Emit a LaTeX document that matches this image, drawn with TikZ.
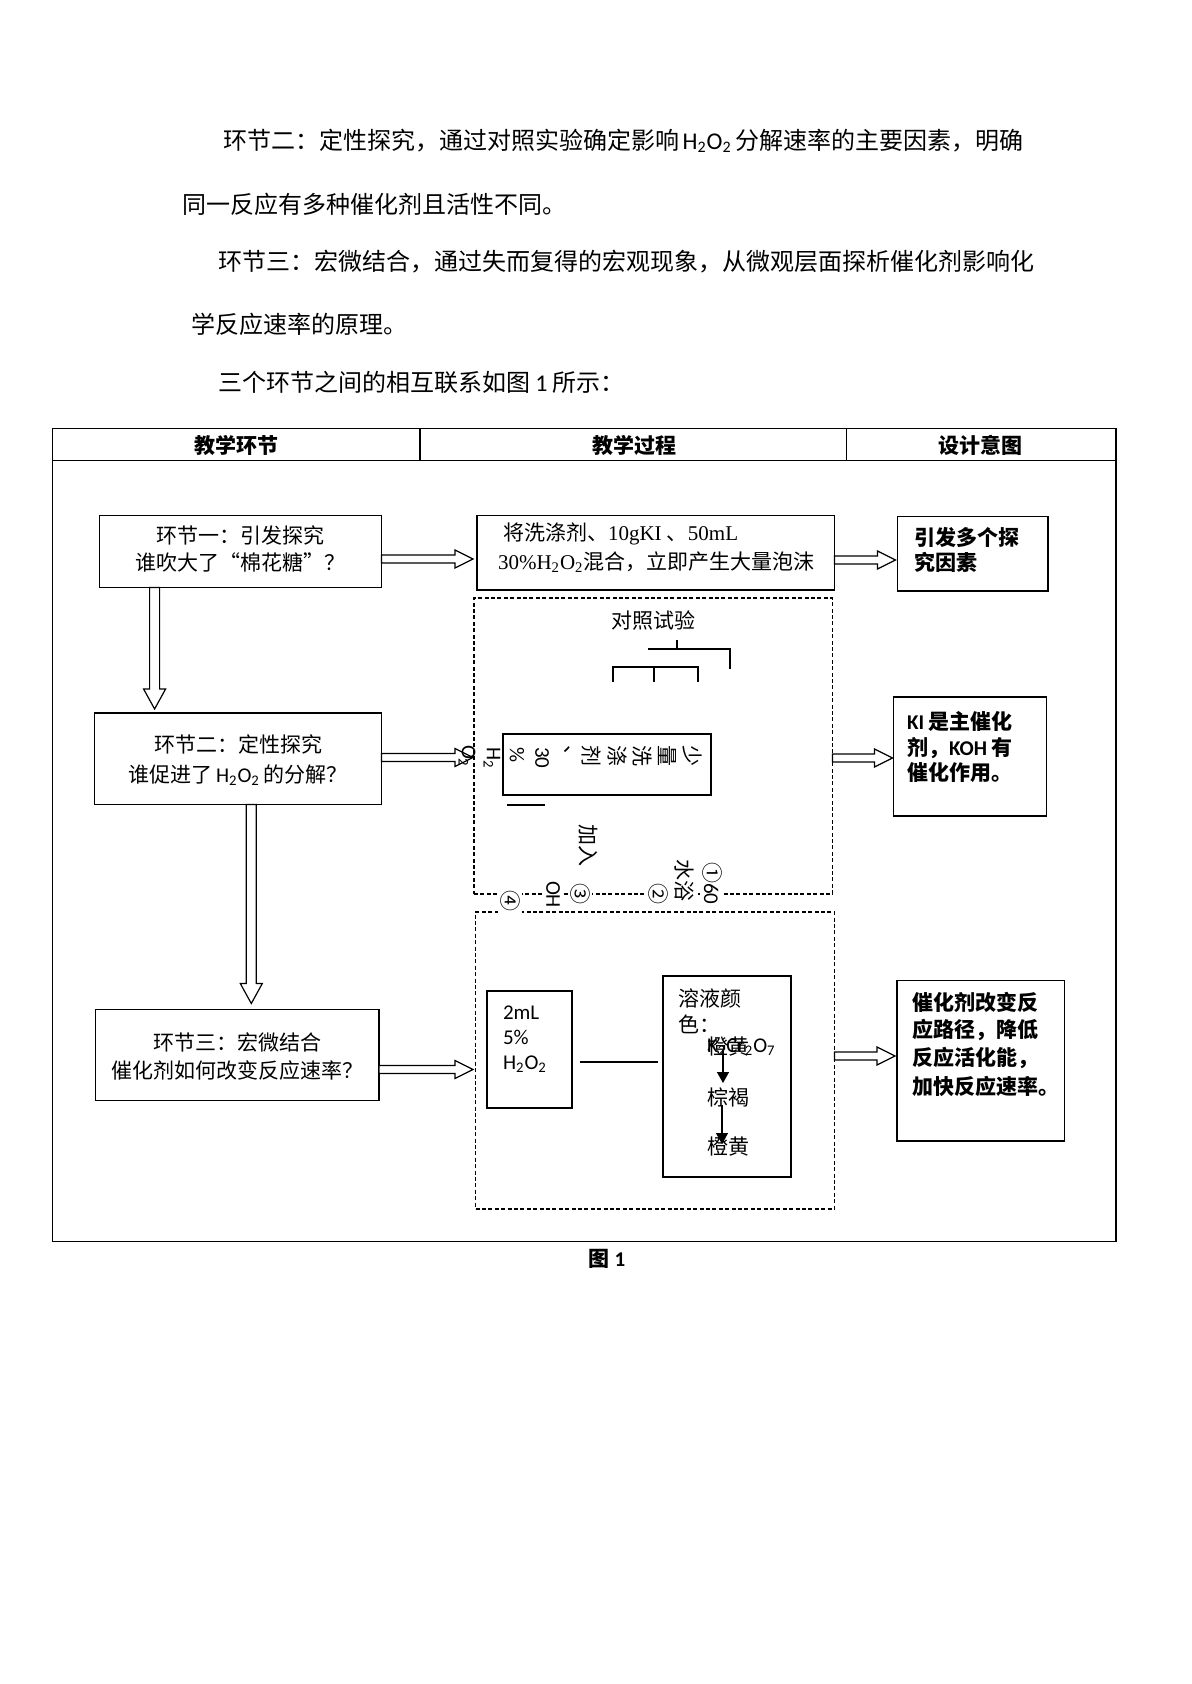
\documentclass[tikz,border=0pt]{standalone}
\usepackage{fontspec}
\setmainfont{Noto Sans CJK SC}
\newfontfamily\tnr{Liberation Serif}
\newfontfamily\calib{Carlito}
\usetikzlibrary{fit,arrows.meta,calc}
\XeTeXlinebreaklocale "zh"
\XeTeXlinebreakskip=0pt plus 2pt
\newcommand\harr[3]{%
  \draw[hollow] let \p1=(#1), \p2=(#2) in
   (\x1,\y1+2pt) -- ({\x2-#3-9pt},\y1+2pt) -- ({\x2-#3-9pt},\y1+4.5pt) -- ({\x2-#3},\y1)
   -- ({\x2-#3-9pt},\y1-4.5pt) -- ({\x2-#3-9pt},\y1-2pt) -- (\x1,\y1-2pt) -- cycle;}
\newcommand\varr[3]{%
  \draw[hollow] let \p1=(#1), \p2=(#2) in
   (\x1-2.5pt,\y1) -- (\x1-2.5pt,{\y2+#3+10pt}) -- (\x1-5.5pt,{\y2+#3+10pt}) -- (\x1,{\y2+#3})
   -- (\x1+5.5pt,{\y2+#3+10pt}) -- (\x1+2.5pt,{\y2+#3+10pt}) -- (\x1+2.5pt,\y1) -- cycle;}
\begin{document}
\begin{tikzpicture}[x=0.5pt,y=-0.5pt,
  every node/.style={inner sep=0pt,outer sep=0pt},
  sbox/.style={draw,line width=0.7pt},
  dbox/.style={draw,line width=0.6pt,dash pattern=on 2pt off 1.2pt},
  hollow/.style={draw,fill=white,line width=0.6pt,line join=miter},
  thin/.style={line width=0.7pt},
  para/.style={anchor=west,font=\fontsize{12pt}{14pt}\selectfont},
  hdr/.style={font=\fontsize{10.5pt}{12pt}\selectfont\bfseries},
  txt/.style={font=\fontsize{10.5pt}{13.5pt}\selectfont},
  ltxt/.style={txt,anchor=west},
  ctxt/.style={anchor=west,font=\calib\fontsize{10.5pt}{12.5pt}\selectfont},
  btxt/.style={anchor=west,font=\fontsize{10.5pt}{13.5pt}\selectfont\bfseries},
  rtxt/.style={rotate=-90,anchor=west,font=\fontsize{10.5pt}{13pt}\selectfont},
  rctxt/.style={rotate=-90,anchor=west,font=\calib\fontsize{10.5pt}{13pt}\selectfont},
  wtxt/.style={fill=white,inner sep=1pt},
  tip/.style={-{Triangle[length=5.5pt,width=6pt]},line width=0.7pt}
]
\fill[white] (0,0) rectangle (1191,1684);
\useasboundingbox (0,0) rectangle (1191,1684);

% ---------- paragraph text ----------
\node[para] (p1) at (223,141) {\makebox[397.5pt][s]{环节二：定性探究，通过对照实验确定影响 {\calib H\textsubscript{2}O\textsubscript{2}} 分解速率的主要因素，明确}};
\node[para] (p2) at (182.6,204) {同一反应有多种催化剂且活性不同。};
\node[para] (p3) at (218,262) {\makebox[406.5pt][s]{环节三：宏微结合，通过失而复得的宏观现象，从微观层面探析催化剂影响化}};
\node[para] (p4) at (191,324) {学反应速率的原理。};
\node[para] (p5) at (218,382) {三个环节之间的相互联系如图 {\calib 1} 所示：};

% ---------- table ----------
\node[sbox,line width=0.75pt,fit={(52.6,428.5) (1115.8,1241.5)}] (tab) {};
\draw[line width=0.75pt] (tab.west |- 0,460.7) -- (tab.east |- 0,460.7);
\draw[line width=0.75pt] (420,428.5) -- (420,460.7);
\draw[line width=0.75pt] (846.3,428.5) -- (846.3,460.7);
\node[hdr] (h1) at (236,445) {教学环节};
\node[hdr] (h2) at (634,445) {教学过程};
\node[hdr] (h3) at (980.5,445) {设计意图};
\node[hdr] (fig) at (607,1259) {图 {\calib\bfseries 1}};

% ---------- boxes ----------
\node[sbox,fit={(99.5,515.5) (381.5,587.5)}] (A1) {};
\node[sbox,fit={(94.5,713) (381.5,804.5)}] (A2) {};
\node[sbox,fit={(95.5,1009.5) (379,1100.5)}] (A3) {};
\node[sbox,fit={(477,515.5) (834.5,590)}] (B1) {};
\node[dbox,fit={(474,598) (832.5,894)}] (B2) {};
\node[dbox,fit={(475.5,912) (834.5,1209)}] (B3) {};
\node[sbox,fit={(897.5,516.5) (1048,591)}] (C1) {};
\node[sbox,fit={(893.5,697) (1046.5,816)}] (C2) {};
\node[sbox,fit={(897,980.5) (1064.5,1141)}] (C3) {};
\node[sbox,fit={(503,734) (711,795)}] (R) {};
\node[sbox,fit={(487,991) (572,1108)}] (H) {};
\node[sbox,fit={(663,976) (791,1177)}] (S) {};

% ---------- hollow arrows ----------
\harr{A1.east |- 0,559}{B1.west}{2pt}
\harr{B1.east |- 0,560}{C1.west}{1pt}
\harr{A2.east |- 0,757.5}{B2.west}{0.5pt}
\harr{B2.east |- 0,758}{C2.west}{0.5pt}
\harr{A3.east |- 0,1069.5}{B3.west}{1.25pt}
\harr{B3.east |- 0,1056}{C3.west}{1pt}
\varr{A1.south -| 154.6,0}{A2.north}{2pt}
\varr{A2.south -| 251.3,0}{A3.north}{3pt}

% ---------- left column text ----------
\node[txt,align=center] (tA1) at (240,548.5) {环节一：引发探究\\谁吹大了“棉花糖”？};
\node[txt,align=center,font=\fontsize{10.5pt}{15pt}\selectfont] (tA2) at (238,760) {环节二：定性探究\\谁促进了{\calib\,H\textsubscript{2}O\textsubscript{2}\,}的分解？};
\node[txt,align=center,font=\fontsize{10.5pt}{14pt}\selectfont] (tA3) at (237,1056) {环节三：宏微结合\\催化剂如何改变反应速率？};

% ---------- middle column ----------
\node[ltxt] (tB1a) at (503,534) {将洗涤剂、{\tnr 10gKI }、{\tnr 50mL}};
\node[ltxt] (tB1b) at (498,562) {{\tnr 30\%H\textsubscript{2}O\textsubscript{2}}混合，立即产生大量泡沫};

\node[txt] (dz) at (653,620) {对照试验};
\draw[thin] (677,640) -- (677,649);
\draw[thin] (648,649) -- (730,649) -- (730,669);
\draw[thin] (613,682) -- (613,667) -- (698,667) -- (698,682);
\draw[thin] (654,667) -- (654,682);
\draw[thin] (507,805) -- (545,805);

\node[rtxt] (r1) at (692,745) {少};
\node[rtxt] (r2) at (667,745) {量};
\node[rtxt] (r3) at (642,745) {洗};
\node[rtxt] (r4) at (617,745) {涤};
\node[rtxt] (r5) at (592,745) {剂};
\node[rtxt] (r6) at (567,745) {、};
\node[rctxt] (r7) at (542,747) {30};
\node[rctxt] (r8) at (517,747) {\%};
\node[rctxt] (r9) at (492,747) {H\textsubscript{2}};
\node[rctxt] (r10) at (467,745) {O\textsubscript{2}};
\node[rtxt] (jr) at (588,824) {加入};

\node[rtxt,wtxt] (n1) at (712,860) {①{\calib 60}};
\node[rtxt,wtxt] (n2) at (684,857) {水浴};
\node[rtxt,wtxt] (n3) at (658,881) {②};
\node[rtxt,wtxt] (n4) at (580,881) {③};
\node[rctxt,wtxt] (n5) at (553,879) {OH};
\node[rtxt,wtxt] (n6) at (510,888) {④};

\node[ctxt,align=left] (tH) at (503,1039) {2mL\\5\%\\H\textsubscript{2}O\textsubscript{2}};
\coordinate (hl) at (580,1062);
\coordinate (sl) at (658,1062);
\draw[thin] (hl) -- (sl);
\node[txt,anchor=west,align=left,font=\fontsize{10.5pt}{13pt}\selectfont] (tS) at (678,1011) {溶液颜\\色：};
\node[ltxt] (c1) at (707,1047) {橙黄};
\node[ctxt] (c1b) at (707,1047) {K\textsubscript{2}Cr\textsubscript{2}O\textsubscript{7}};
\node[ltxt] (c2) at (707,1097) {棕褐};
\node[ltxt] (c3) at (707,1147) {橙黄};
\coordinate (k1) at (723,1050);
\coordinate (k2) at (723,1083);
\coordinate (k3) at (722,1105);
\coordinate (k4) at (722,1144);
\draw[tip] (k1) -- (k2);
\draw[tip] (k3) -- (k4);

% ---------- right column ----------
\node[btxt] (tC1a) at (914,537) {引发多个探};
\node[btxt] (tC1b) at (914,562) {究因素};
\node[btxt] (tC2a) at (907,721) {{\calib KI} 是主催化};
\node[btxt] (tC2b) at (907,748) {剂，{\calib KOH} 有};
\node[btxt] (tC2c) at (907,773) {催化作用。};
\node[btxt] (tC3a) at (912,1002) {催化剂改变反};
\node[btxt] (tC3b) at (912,1030) {应路径，降低};
\node[btxt] (tC3c) at (912,1058) {反应活化能，};
\node[btxt] (tC3d) at (912,1086) {加快反应速率。};
\end{tikzpicture}
\end{document}
